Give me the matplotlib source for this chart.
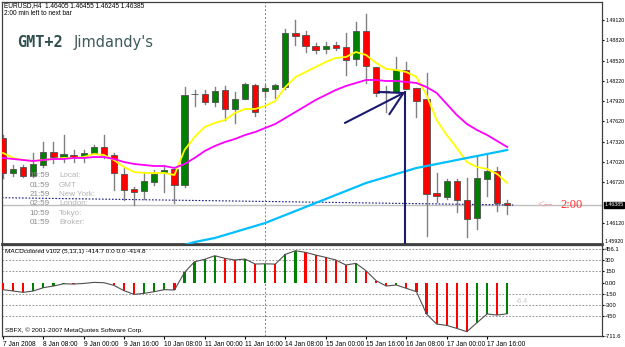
import numpy as np
import matplotlib
matplotlib.use('Agg')
import matplotlib.pyplot as plt
import matplotlib.transforms as mtransforms
from matplotlib.patches import Rectangle

plt.rcParams['font.family'] = ['Liberation Sans', 'DejaVu Sans']

# EURUSD H4 bars, 7 Jan 16:00 .. 18 Jan 00:00 (2008)
opens = [1.47374, 1.46856, 1.46944, 1.46811, 1.46974, 1.47166, 1.47092, 1.47122, 1.47092, 1.47152,
         1.47240, 1.47122, 1.46841, 1.46619, 1.46589, 1.46722, 1.46870, 1.46915, 1.46678, 1.48025,
         1.48025, 1.47906, 1.48084, 1.47803, 1.47951, 1.48158, 1.48069, 1.48099, 1.48128, 1.48928,
         1.48898, 1.48735, 1.48691, 1.48750, 1.48720, 1.48543, 1.48957, 1.48424, 1.48054, 1.48054,
         1.48376, 1.48114, 1.47951, 1.46560, 1.46500, 1.46737, 1.46456, 1.46190, 1.46767, 1.46885,
         1.46405]
highs = [1.47418, 1.46974, 1.46974, 1.47152, 1.47314, 1.47314, 1.47418, 1.47196, 1.47196, 1.47270,
         1.47418, 1.47152, 1.46930, 1.46648, 1.46870, 1.46900, 1.46974, 1.46944, 1.48128, 1.48084,
         1.48084, 1.48128, 1.48143, 1.48054, 1.48188, 1.48173, 1.48158, 1.48173, 1.48987, 1.49120,
         1.48957, 1.48780, 1.48794, 1.48794, 1.48928, 1.49090, 1.49209, 1.48424, 1.48143, 1.48572,
         1.48498, 1.48114, 1.48336, 1.46856, 1.46767, 1.46767, 1.46782, 1.47107, 1.47137, 1.46944,
         1.46455]
lows = [1.46782, 1.46811, 1.46796, 1.46796, 1.46944, 1.47004, 1.47018, 1.47018, 1.47018, 1.47152,
        1.47078, 1.46604, 1.46456, 1.46382, 1.46471, 1.46678, 1.46574, 1.46412, 1.46648, 1.47847,
        1.47877, 1.47847, 1.47640, 1.47596, 1.47951, 1.47699, 1.47980, 1.47966, 1.48099, 1.48750,
        1.48646, 1.48632, 1.48632, 1.48676, 1.48306, 1.48454, 1.48188, 1.47995, 1.47758, 1.48054,
        1.48099, 1.47684, 1.45923, 1.46426, 1.46471, 1.46278, 1.45908, 1.46027, 1.46515, 1.46293,
        1.46245]
closes = [1.46856, 1.46915, 1.46811, 1.46989, 1.47166, 1.47092, 1.47137, 1.47092, 1.47152, 1.47240,
          1.47122, 1.46856, 1.46604, 1.46574, 1.46737, 1.46841, 1.46900, 1.46678, 1.48010, 1.48018,
          1.47906, 1.48069, 1.47803, 1.47951, 1.48173, 1.47758, 1.48114, 1.48158, 1.48928, 1.48883,
          1.48735, 1.48676, 1.48735, 1.48706, 1.48528, 1.48957, 1.48439, 1.48040, 1.48054, 1.48376,
          1.48099, 1.47921, 1.46545, 1.46515, 1.46737, 1.46456, 1.46175, 1.46782, 1.46885, 1.46412,
          1.46385]

# moving averages
ma_yellow = [1.47152, 1.47078, 1.47048, 1.47033, 1.47048, 1.47063, 1.47078, 1.47078, 1.47092, 1.47137,
             1.47122, 1.47048, 1.46944, 1.46870, 1.46856, 1.46856, 1.46856, 1.46826, 1.47196, 1.47388,
             1.47536, 1.47596, 1.47640, 1.47744, 1.47803, 1.47803, 1.47847, 1.47921, 1.48128, 1.48276,
             1.48350, 1.48424, 1.48498, 1.48558, 1.48572, 1.48646, 1.48602, 1.48484, 1.48395, 1.48380,
             1.48350, 1.48276, 1.48010, 1.47640, 1.47418, 1.47226, 1.47018, 1.46944, 1.46915, 1.46841,
             1.46708]
ma_magenta = [1.47078, 1.47063, 1.47048, 1.47033, 1.47048, 1.47063, 1.47063, 1.47078, 1.47078, 1.47092,
              1.47092, 1.47063, 1.47018, 1.46989, 1.46974, 1.46959, 1.46959, 1.46930, 1.46989, 1.47078,
              1.47181, 1.47255, 1.47314, 1.47359, 1.47418, 1.47462, 1.47522, 1.47581, 1.47670, 1.47758,
              1.47847, 1.47936, 1.48010, 1.48084, 1.48143, 1.48188, 1.48232, 1.48232, 1.48217, 1.48217,
              1.48202, 1.48188, 1.48128, 1.48040, 1.47877, 1.47714, 1.47581, 1.47492, 1.47418, 1.47329,
              1.47240]
ma_blue = [np.nan] * 18 + [
              1.45790, 1.45834, 1.45864, 1.45894, 1.45938, 1.45982, 1.46027, 1.46071, 1.46116, 1.46175,
              1.46234, 1.46293, 1.46352, 1.46412, 1.46471, 1.46530, 1.46589, 1.46648, 1.46708, 1.46752,
              1.46796, 1.46841, 1.46885, 1.46930, 1.46959, 1.46989, 1.47018, 1.47048, 1.47078, 1.47107,
              1.47137, 1.47166, 1.47196]

# MACDcolored (5,13,1) histogram
macd = [-93, -111, -129, -111, -67, -45, -15, -18, -10, 4,
        0, -36, -107, -156, -142, -120, -93, -98, 138, 280,
        312, 360, 325, 303, 316, 249, 252, 248, 378, 427,
        405, 369, 338, 303, 236, 258, 160, 27, -45, -31,
        -76, -120, -418, -552, -570, -610, -654, -534, -418, -432,
        -415]

time_labels = ['7 Jan 2008', '8 Jan 08:00', '9 Jan 00:00', '9 Jan 16:00', '10 Jan 08:00',
               '11 Jan 00:00', '11 Jan 16:00', '14 Jan 08:00', '15 Jan 00:00', '15 Jan 16:00',
               '16 Jan 08:00', '17 Jan 00:00', '17 Jan 16:00']
price_ticks = [1.49120, 1.48820, 1.48520, 1.48220, 1.47920, 1.47620, 1.47320, 1.47020, 1.46720, 1.46120]
price_min_label = '1.45920'
macd_ticks = [456.1, 300, 150, 0, -150, -300, -450, -711.6]
macd_tick_labels = ['456.1', '300', '150', '0.00', '-150', '-300', '-450', '-711.6']
macd_levels = [456.1, 300, 150, -150, -300, -450]
bid = 1.46385
week_sep = 26
trend_x = [-0.1, 50.6]
trend_y = [1.46490, 1.46382]
arrow_start = (33.9, 1.47596)
arrow_tip = (39.9, 1.48054)
clock_times = ['19:59', '01:59', '21:59', '02:59', '10:59', '01:59']
clock_zones = ['Local:', 'GMT', 'New York:', 'London:', 'Tokyo:', 'Broker:']

W, H = 625, 347
fig = plt.figure(figsize=(W / 100, H / 100), dpi=100)
ax = fig.add_axes([2 / W, (H - 244) / H, 600 / W, 242 / H])
am = fig.add_axes([2 / W, (H - 336) / H, 600 / W, 91 / H], sharex=ax)

n = len(opens)
xs = np.arange(n)
bw = 0.62
for i in range(n):
    o, h, l, c = opens[i], highs[i], lows[i], closes[i]
    ax.plot([i, i], [l, h], color='#808080', lw=1.0, zorder=2)
    if abs(c - o) < 1e-6:
        ax.plot([i - bw / 2, i + bw / 2], [o, o], color='#404040', lw=1.2, zorder=3)
    else:
        col = '#008000' if c > o else '#ff0000'
        ax.add_patch(Rectangle((i - bw / 2, min(o, c)), bw, abs(c - o), facecolor=col,
                               edgecolor='#505050', lw=0.6, zorder=3))

ax.plot(xs, ma_yellow, color='#ffff00', lw=1.3, zorder=4)
ax.plot(xs, ma_magenta, color='#ff00ff', lw=1.3, zorder=4)
ax.plot(xs, ma_blue, color='#00bfff', lw=1.6, zorder=4)

ax.axhline(bid, color='#c0c0c0', lw=1.0, zorder=1)
ax.plot(trend_x, trend_y, color='#1a1a80', lw=0.8, ls=(0, (1.5, 1.5)), zorder=1)
ax.axvline(week_sep, color='#808080', lw=0.7, ls=(0, (2, 2)), zorder=1)

# hand-drawn arrows
ax.plot([arrow_tip[0], arrow_tip[0]], [arrow_tip[1], 1.45], color='#1a1a6e', lw=1.5, zorder=5)
ax.annotate('', xy=arrow_tip, xytext=arrow_start,
            arrowprops=dict(arrowstyle='->,head_length=0.8,head_width=0.45', color='#1a1a6e',
                            lw=1.5, mutation_scale=20, shrinkA=0, shrinkB=0), zorder=5)

ax.set_xlim(-0.1, 59.4)
ax.set_ylim(1.45805, 1.49386)
ax.yaxis.tick_right()
ax.set_yticks(price_ticks)
ax.set_yticklabels(['%.5f' % p for p in price_ticks])
ax.tick_params(axis='y', labelsize=3.8, length=1.5, pad=0.8, colors='black')
ax.tick_params(axis='x', bottom=False, labelbottom=False)
ax.text(1.0035, 0.01, price_min_label, transform=ax.transAxes, fontsize=3.8, va='center', ha='left')
tr = mtransforms.blended_transform_factory(ax.transAxes, ax.transData)
ax.text(1.0035, bid, '%.5f' % bid, transform=tr, fontsize=3.8, va='center', ha='left', color='white',
        bbox=dict(boxstyle='square,pad=0.1', facecolor='black', edgecolor='black'))
ax.text(53.0, bid, '<--', color='#ff9a9a', fontsize=9, family='Liberation Serif', va='center', ha='left')
ax.text(55.3, bid, '2:00', color='#ff3030', fontsize=9, family='Liberation Serif', va='center', ha='left')
for s in ax.spines.values():
    s.set_color('#404040')
    s.set_linewidth(0.9)
ax.spines['bottom'].set_linewidth(2.0)

# MACD panel
bar_cols = ['#ff0000'] + ['#008000' if macd[i] > macd[i - 1] else '#ff0000' for i in range(1, n)]
am.bar(xs, macd, width=0.22, color=bar_cols, zorder=3)
am.plot(xs, macd, color='#505050', lw=0.8, zorder=4)
for lv in macd_levels:
    am.axhline(lv, color='#808080', lw=0.6, ls=(0, (2, 2)), zorder=1)
am.axvline(week_sep, color='#808080', lw=0.7, ls=(0, (2, 2)), zorder=1)
am.set_ylim(-711.6, 503)
am.yaxis.tick_right()
am.set_yticks(macd_ticks)
am.set_yticklabels(macd_tick_labels)
am.tick_params(axis='y', labelsize=4.2, length=1.5, pad=0.8)
am.set_xticks(np.arange(0, n, 4)[:len(time_labels)])
am.set_xticklabels(time_labels)
am.tick_params(axis='x', labelsize=4.8, length=2, pad=1.5)
for lab in am.get_xticklabels():
    lab.set_ha('left')
for s in am.spines.values():
    s.set_color('#404040')
    s.set_linewidth(0.9)
am.text(3 / 600, 0.93, 'MACDcolored v102 (5,13,1) -414.7 0.0 0.0 -414.8', transform=am.transAxes,
        fontsize=4.6, va='center', ha='left')
am.text(3 / 600, 0.065, 'SBFX, \u00a9 2001-2007 MetaQuotes Software Corp.', transform=am.transAxes,
        fontsize=4.6, va='center', ha='left')
am.text(50.8, -254, '-6.4', color='#c8c8c8', fontsize=5, va='center', ha='left')

# header and clock texts
fig.text(4 / W, 1 - 6 / H, 'EURUSD,H4  1.46405 1.46455 1.46245 1.46385', fontsize=4.7, va='center')
fig.text(4 / W, 1 - 13.5 / H, '2:00 min left to next bar', fontsize=4.7, va='center')
fig.text(17 / W, 1 - 47 / H, 'GMT+2', family='DejaVu Sans Mono', weight='bold', fontsize=11,
         color='#2f4f4f', va='baseline')
fig.text(74 / W, 1 - 47 / H, "Jimdandy's", family='DejaVu Sans', fontsize=10.5,
         color='#3f5a5a', va='baseline')
for k in range(len(clock_times)):
    yy = 1 - (175.7 + 9.4 * k) / H
    fig.text(50 / W, yy, clock_times[k], fontsize=5.8, color='#8c8c8c', ha='right', va='center')
    fig.text(59 / W, yy, clock_zones[k], fontsize=5.8, color='#b4b4b4', ha='left', va='center')

fig.savefig('out.png', dpi=100)
